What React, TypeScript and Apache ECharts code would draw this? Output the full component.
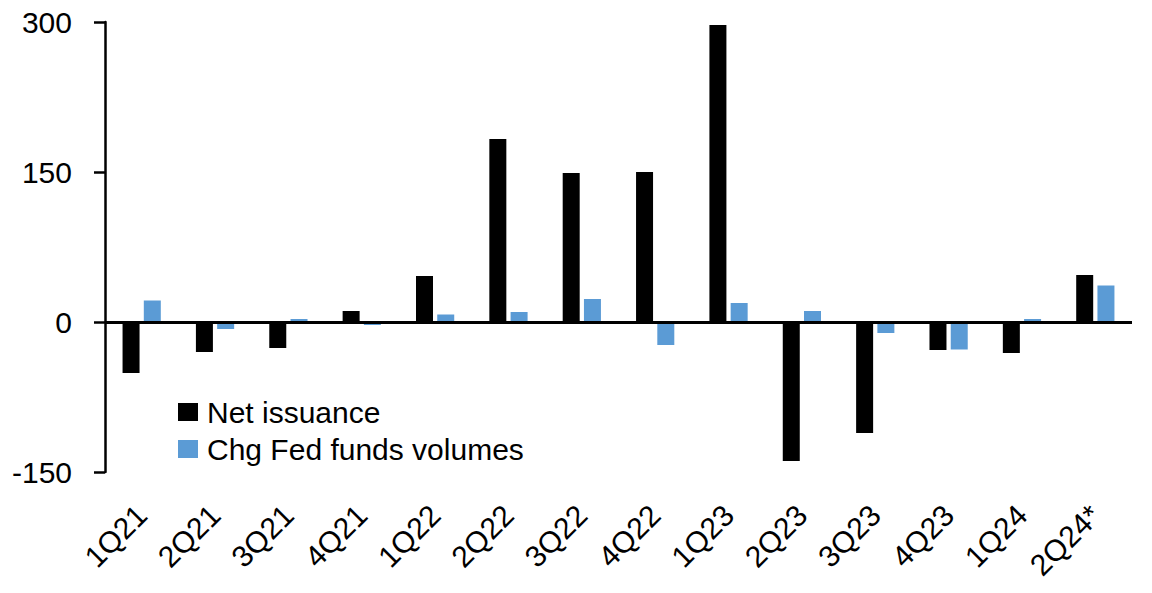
import React, { useEffect, useRef } from "react";
import * as echarts from "echarts";

const categories = ["1Q21", "2Q21", "3Q21", "4Q21", "1Q22", "2Q22", "3Q22", "4Q22", "1Q23", "2Q23", "3Q23", "4Q23", "1Q24", "2Q24*"];
const netIssuance = [-51, -30, -26, 11, 46, 183, 149, 150, 297, -139, -111, -28, -31, 47];
const fedFundsChange = [21.5, -7, 3, -3, 7.5, 10, 23, -23, 19, 11, -11, -27.5, 3, 36.5];
const yTicks = { min: -150, max: 300, interval: 150 };

const FONT = "'Liberation Sans', Arial, sans-serif";

export default function App() {
  const ref = useRef<HTMLDivElement>(null);
  useEffect(() => {
    if (!ref.current) return;
    const chart = echarts.init(ref.current, undefined, { renderer: "svg" });
    chart.setOption({
      animation: false,
      backgroundColor: "#ffffff",
      textStyle: { fontFamily: FONT, color: "#000" },
      grid: { left: 105, right: 20, top: 22, bottom: 121 },
      legend: {
        orient: "vertical",
        left: 178,
        top: 397,
        padding: 0,
        itemWidth: 20,
        itemHeight: 18,
        itemGap: 7,
        icon: "rect",
        textStyle: { fontFamily: FONT, fontSize: 30, lineHeight: 30, color: "#000", padding: [0, 0, 0, 4] },
        data: ["Net issuance", "Chg Fed funds volumes"],
      },
      xAxis: {
        type: "category",
        data: categories,
        axisLine: { show: false, onZero: false },
        axisTick: { show: false },
        axisLabel: { rotate: 45, fontSize: 30, color: "#000", margin: 38, fontFamily: FONT, interval: 0 },
      },
      yAxis: {
        type: "value",
        min: yTicks.min,
        max: yTicks.max,
        interval: yTicks.interval,
        axisLine: { show: true, lineStyle: { color: "#000", width: 2.5 } },
        axisTick: { show: true, inside: false, length: 11, lineStyle: { color: "#000", width: 2.5 } },
        axisLabel: { fontSize: 30, color: "#000", margin: 33, fontFamily: FONT, padding: [0, 0, 6, 0] },
        splitLine: { show: false },
      },
      series: [
        {
          name: "Net issuance",
          type: "bar",
          data: netIssuance,
          barWidth: 17,
          barGap: "25%",
          itemStyle: { color: "#000000" },
          markLine: {
            silent: true,
            symbol: "none",
            label: { show: false },
            lineStyle: { color: "#000", width: 3, type: "solid" },
            data: [{ yAxis: 0 }],
          },
        },
        {
          name: "Chg Fed funds volumes",
          type: "bar",
          data: fedFundsChange,
          barWidth: 17,
          barGap: "25%",
          itemStyle: { color: "#5B9BD5" },
        },
      ],
    });
    return () => chart.dispose();
  }, []);
  return <div ref={ref} style={{ position: "absolute", left: 0, top: 0, width: 1152, height: 593 }} />;
}
